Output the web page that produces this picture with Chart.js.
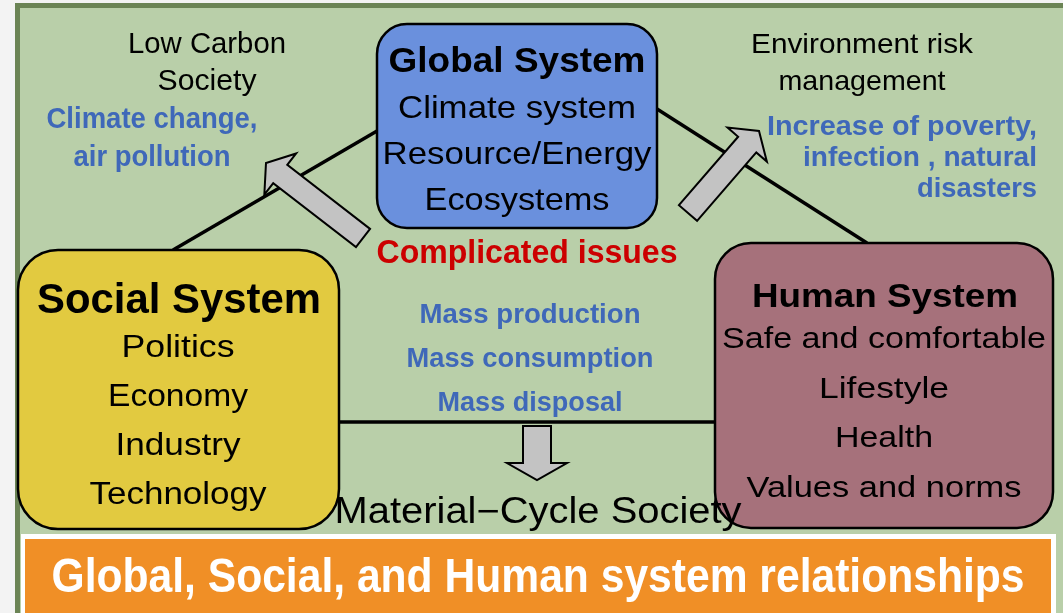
<!DOCTYPE html>
<html>
<head>
<meta charset="utf-8">
<script src="https://cdn.jsdelivr.net/npm/chart.js@4.4.1/dist/chart.umd.min.js"></script>
<style>
  html, body { margin: 0; padding: 0; background: #f3f3f3; }
  canvas { display: block; }
</style>
</head>
<body>
<canvas id="diagram" width="1063" height="613"></canvas>
<script>
// ---- texts of the diagram ----
const globalTitle = 'Global System';
const globalItems = ['Climate system', 'Resource/Energy', 'Ecosystems'];
const socialTitle = 'Social System';
const socialItems = ['Politics', 'Economy', 'Industry', 'Technology'];
const humanTitle = 'Human System';
const humanItems = ['Safe and comfortable', 'Lifestyle', 'Health', 'Values and norms'];
const lowCarbonLabel = ['Low Carbon', 'Society'];
const climateIssues = ['Climate change,', 'air pollution'];
const riskLabel = ['Environment risk', 'management'];
const riskIssues = ['Increase of poverty,', 'infection , natural', 'disasters'];
const massItems = ['Mass production', 'Mass consumption', 'Mass disposal'];
const centreLabel = 'Complicated issues';
const cycleLabel = 'Material\u2212Cycle Society';
const bannerTitle = 'Global, Social, and Human system relationships';

// ---- layout (canvas units, y down) ----
const boxes = {
    global: { x0: 377, y0: 24, x1: 657, y1: 228, r: 30, fill: '#6a90dd' },
    social: { x0: 18, y0: 250, x1: 339, y1: 529, r: 40, fill: '#e2ca40' },
    human: { x0: 715, y0: 243, x1: 1053, y1: 528, r: 36, fill: '#a6717b' },
};
const links = [
    [{ x: 173, y: 250 }, { x: 377, y: 131 }],
    [{ x: 657, y: 109 }, { x: 867, y: 243 }],
    [{ x: 339, y: 422 }, { x: 715, y: 422 }],
];
const arrows = [
    { tail: { x: 363, y: 238 }, tip: { x: 266, y: 163 }, shaft: 23, head: 52, headLen: 18 },
    { tail: { x: 688, y: 213 }, tip: { x: 759, y: 131 }, shaft: 24, head: 52, headLen: 18 },
    { tail: { x: 537, y: 426 }, tip: { x: 537, y: 480 }, shaft: 28, head: 60, headLen: 17 },
];

const BLACK = '#000000', BLUE = '#3f68b9', RED = '#cc0000';
const SANS = '"Liberation Sans", Arial, sans-serif';

// text blocks: first baseline, line step, font size, width of each line
const textBlocks = [
    { lines: [globalTitle], x: 517, y: 72, dy: 0, size: 35, bold: true, color: BLACK, w: [257] },
    { lines: globalItems, x: 517, y: 118, dy: 46, size: 32, bold: false, color: BLACK, w: [238, 269, 185] },
    { lines: [socialTitle], x: 179, y: 313, dy: 0, size: 42, bold: true, color: BLACK, w: [284] },
    { lines: socialItems, x: 178, y: 357, dy: 49, size: 31, bold: false, color: BLACK, w: [113, 140, 125, 177] },
    { lines: [humanTitle], x: 885, y: 307, dy: 0, size: 34, bold: true, color: BLACK, w: [266] },
    { lines: humanItems, x: 884, y: 348, dy: 49.5, size: 30, bold: false, color: BLACK, w: [324, 130, 98, 275] },
    { lines: lowCarbonLabel, x: 207, y: 53, dy: 37, size: 29, bold: false, color: BLACK, w: [158, 99] },
    { lines: climateIssues, x: 152, y: 128, dy: 38, size: 29, bold: true, color: BLUE, w: [211, 157] },
    { lines: riskLabel, x: 862, y: 53, dy: 37, size: 28, bold: false, color: BLACK, w: [222, 167] },
    { lines: riskIssues, x: 1037, y: 135, dy: 31, size: 28, bold: true, color: BLUE, w: [270, 234, 120], align: 'right' },
    { lines: [centreLabel], x: 527, y: 263, dy: 0, size: 34, bold: true, color: RED, w: [301] },
    { lines: massItems, x: 530, y: 323, dy: 44, size: 28, bold: true, color: BLUE, w: [221, 247, 185] },
    { lines: [cycleLabel], x: 538, y: 523, dy: 0, size: 36, bold: false, color: BLACK, w: [407] },
];

function roundRect(ctx, x0, y0, x1, y1, r) {
    ctx.beginPath();
    ctx.moveTo(x0 + r, y0);
    ctx.lineTo(x1 - r, y0);
    ctx.arcTo(x1, y0, x1, y0 + r, r);
    ctx.lineTo(x1, y1 - r);
    ctx.arcTo(x1, y1, x1 - r, y1, r);
    ctx.lineTo(x0 + r, y1);
    ctx.arcTo(x0, y1, x0, y1 - r, r);
    ctx.lineTo(x0, y0 + r);
    ctx.arcTo(x0, y0, x0 + r, y0, r);
    ctx.closePath();
}

function fitText(ctx, str, x, y, size, bold, color, width, align, family) {
    ctx.font = (bold ? 'bold ' : '') + size + 'px ' + (family || SANS);
    ctx.fillStyle = color;
    ctx.textBaseline = 'alphabetic';
    ctx.textAlign = align || 'center';
    const sx = width / ctx.measureText(str).width;
    ctx.save();
    ctx.translate(x, y);
    ctx.scale(sx, 1);
    ctx.fillText(str, 0, 0);
    ctx.restore();
}

const diagramPlugin = {
    id: 'diagram',
    beforeDatasetsDraw(chart) {
        const { ctx, scales: { x, y } } = chart;
        const px = v => x.getPixelForValue(v), py = v => y.getPixelForValue(v);
        ctx.save();
        ctx.fillStyle = '#f3f3f3';
        ctx.fillRect(px(0), py(0), px(1063) - px(0), py(613) - py(0));
        // green panel with dark border
        ctx.fillStyle = '#6b8455';
        ctx.fillRect(px(15), py(3), px(1063) - px(15), py(613) - py(3));
        ctx.fillStyle = '#b9cfa9';
        ctx.fillRect(px(20), py(8), px(1063) - px(20), py(613) - py(8));
        ctx.restore();
    },
    afterDatasetsDraw(chart) {
        const { ctx, scales: { x, y } } = chart;
        const px = v => x.getPixelForValue(v), py = v => y.getPixelForValue(v);
        ctx.save();

        // block arrows
        arrows.forEach(a => {
            const tx = px(a.tail.x), ty = py(a.tail.y), hx = px(a.tip.x), hy = py(a.tip.y);
            const len = Math.hypot(hx - tx, hy - ty);
            const ux = (hx - tx) / len, uy = (hy - ty) / len, nx = -uy, ny = ux;
            const bx = hx - ux * a.headLen, by = hy - uy * a.headLen;
            const s = a.shaft / 2, h = a.head / 2;
            ctx.beginPath();
            ctx.moveTo(tx + nx * s, ty + ny * s);
            ctx.lineTo(bx + nx * s, by + ny * s);
            ctx.lineTo(bx + nx * h, by + ny * h);
            ctx.lineTo(hx, hy);
            ctx.lineTo(bx - nx * h, by - ny * h);
            ctx.lineTo(bx - nx * s, by - ny * s);
            ctx.lineTo(tx - nx * s, ty - ny * s);
            ctx.closePath();
            ctx.fillStyle = '#c3c3c3';
            ctx.fill();
            ctx.lineWidth = 2;
            ctx.lineJoin = 'miter';
            ctx.strokeStyle = BLACK;
            ctx.stroke();
        });

        // system boxes
        Object.values(boxes).forEach(b => {
            roundRect(ctx, px(b.x0), py(b.y0), px(b.x1), py(b.y1), b.r);
            ctx.fillStyle = b.fill;
            ctx.fill();
            ctx.lineWidth = 2.5;
            ctx.strokeStyle = BLACK;
            ctx.stroke();
        });

        // labels
        textBlocks.forEach(t => {
            t.lines.forEach((line, i) => {
                fitText(ctx, line, px(t.x), py(t.y + i * t.dy), t.size, t.bold, t.color, t.w[i], t.align);
            });
        });

        // title banner
        ctx.fillStyle = '#ffffff';
        ctx.fillRect(px(21), py(534), px(1056) - px(21), py(613) - py(534));
        ctx.fillStyle = '#f08f26';
        ctx.fillRect(px(25), py(539), px(1051) - px(25), py(613) - py(539));
        fitText(ctx, bannerTitle, px(538), py(592), 48, true, '#ffffff', 973, 'center',
            '"Liberation Sans Narrow", "Arial Narrow", "Liberation Sans", sans-serif');

        ctx.restore();
    },
};

new Chart(document.getElementById('diagram'), {
    type: 'scatter',
    data: {
        datasets: links.map(pts => ({
            data: pts,
            showLine: true,
            borderColor: BLACK,
            borderWidth: 3.5,
            pointRadius: 0,
            pointHoverRadius: 0,
        })),
    },
    options: {
        responsive: false,
        animation: false,
        events: [],
        layout: { padding: 0 },
        scales: {
            x: { type: 'linear', min: 0, max: 1063, display: false },
            y: { type: 'linear', min: 0, max: 613, reverse: true, display: false },
        },
        plugins: { legend: { display: false }, tooltip: { enabled: false } },
    },
    plugins: [diagramPlugin],
});
</script>
</body>
</html>
